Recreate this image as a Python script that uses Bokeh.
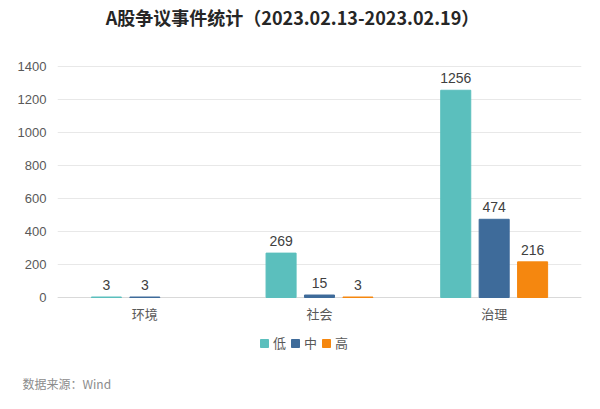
from bokeh.plotting import figure
from bokeh.models import (ColumnDataSource, FactorRange, Range1d, Legend, LegendItem,
                          LabelSet, Label, Span, Title)
from bokeh.core.properties import value
from bokeh.transform import dodge
from bokeh.embed import file_html
from bokeh.resources import INLINE

categories = ["环境", "社会", "治理"]
low = [3, 269, 1256]
mid = [3, 15, 474]
high = [None, 3, 216]
series_names = ["低", "中", "高"]
colors = ["#5bbfbd", "#3e6b9a", "#f5870f"]
yticks = [0, 200, 400, 600, 800, 1000, 1200, 1400]
title_text = "A股争议事件统计（2023.02.13-2023.02.19）"
source_text = "数据来源：Wind"

FONT = "Noto Sans CJK SC"
NUMFONT = "Liberation Sans, Noto Sans CJK SC"

# pixel layout of the frame (canvas pixels from top)
FRAME_BOTTOM = 372
PX_MAX = 66      # gridline of the top tick
PX_ZERO = 297    # baseline
upp = yticks[-1] / (PX_ZERO - PX_MAX)          # data units per pixel
ytop = yticks[-1] + PX_MAX * upp
ybot = -(FRAME_BOTTOM - PX_ZERO) * upp

p = figure(frame_width=524, frame_height=FRAME_BOTTOM,
           x_range=FactorRange(*categories, range_padding=0),
           y_range=Range1d(ybot, ytop), output_backend="svg", toolbar_location=None,
           min_border_left=57, min_border_right=3, min_border_top=0,
           min_border_bottom=393 - FRAME_BOTTOM)
p.outline_line_color = None

offsets = [-0.22, 0.0, 0.22]
series = [low, mid, high]
renderers = []
for name, vals, off, col in zip(series_names, series, offsets, colors):
    xs = [c for c, v in zip(categories, vals) if v is not None]
    ys = [v for v in vals if v is not None]
    src = ColumnDataSource(dict(x=xs, y=ys, lab=[str(v) for v in ys]))
    r = p.vbar(x=dodge("x", off, range=p.x_range), top="y", width=0.172, source=src,
               fill_color=col, line_color=col, line_width=1)
    renderers.append((name, r))
    p.add_layout(LabelSet(x=dodge("x", off, range=p.x_range), y="y", text="lab", source=src,
                          text_align="center", text_baseline="bottom", y_offset=7,
                          text_font=value(NUMFONT), text_font_size=value("14px"),
                          text_color="#404040"))

# category labels under the baseline
cat_src = ColumnDataSource(dict(x=categories, y=[0] * len(categories), lab=categories))
p.add_layout(LabelSet(x="x", y="y", text="lab", source=cat_src, text_align="center",
                      text_baseline="middle", y_offset=-16, text_font=value(FONT),
                      text_font_size=value("13px"), text_color="#595959"))

p.add_layout(Label(x=235, y=FRAME_BOTTOM - 16, x_units="screen", y_units="screen",
                   text=title_text, text_align="center", text_baseline="middle",
                   text_font=FONT, text_font_size="18px", text_font_style="bold",
                   text_color="#262626"))

p.yaxis.ticker = yticks
p.yaxis.axis_line_color = None
p.yaxis.major_tick_line_color = None
p.yaxis.minor_tick_line_color = None
p.yaxis.major_label_text_font = NUMFONT
p.yaxis.major_label_text_font_size = "13px"
p.yaxis.major_label_text_color = "#595959"
p.yaxis.major_label_standoff = 5
p.xaxis.visible = False

p.xgrid.grid_line_color = None
p.ygrid.ticker = yticks
p.ygrid.grid_line_color = "#e8e8e8"
p.ygrid.level = "underlay"
p.add_layout(Span(location=0, dimension="width", line_color="#d9d9d9", line_width=1,
                  level="underlay"))

legend = Legend(items=[LegendItem(label=n, renderers=[r]) for n, r in renderers],
                orientation="horizontal", location=(202, FRAME_BOTTOM - 352),
                label_text_font=FONT, label_text_font_size="13px", label_text_color="#595959",
                glyph_width=10, glyph_height=10, label_standoff=4, label_width=12, spacing=4,
                border_line_color=None, background_fill_alpha=0, padding=0, margin=0)
p.add_layout(legend)

p.add_layout(Title(text=source_text, align="left", offset=-35, standoff=0,
                   text_font=FONT, text_font_size="12px", text_font_style="normal",
                   text_color="#8c8c8c"), "below")

open("out.html", "w").write(file_html(p, INLINE))
